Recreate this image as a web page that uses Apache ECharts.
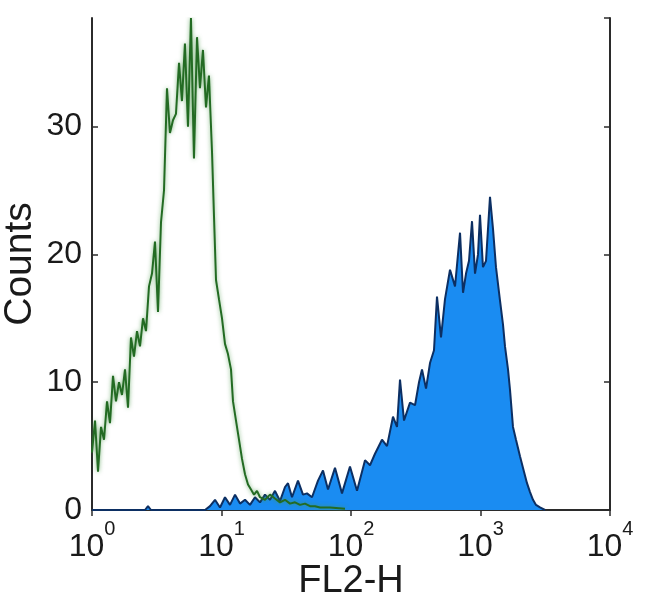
<!DOCTYPE html>
<html>
<head>
<meta charset="utf-8">
<script src="https://cdn.jsdelivr.net/npm/echarts@6/dist/echarts.min.js"></script>
<style>
html,body{margin:0;padding:0;background:#fff;}
#chart{width:650px;height:615px;}
</style>
</head>
<body>
<div id="chart"></div>
<script>
// Isotype control histogram (green outline)
var greenX = [1.00,1.055,1.113,1.174,1.238,1.306,1.377,1.453,1.532,1.616,1.705,1.798,1.897,2.000,2.11,2.226,2.348,2.477,2.612,2.755,2.906,3.065,3.233,3.41,3.597,3.794,4.00,4.22,4.45,4.70,4.95,5.22,5.51,5.81,6.13,6.47,6.82,7.19,7.59,8.00,8.45,8.75,9.07,9.56,10.09,10.64,11.22,11.84,12.27,12.94,13.65,14.40,15.19,16.02,16.90,17.83,18.80,19.83,21.67,23.69,25.89,28.30,30.93,33.81,36.95,40.39,44.15,48.25,52.73,57.64,68.84,89.9];
var greenY = [4.5,7.0,3.0,6.5,5.5,8.5,6.8,10.5,8.5,10.0,9.0,11.0,8.0,13.5,12.0,14.0,12.8,15.0,14.0,17.5,18.5,21.0,15.5,22.5,25.0,33.0,29.5,30.5,31.0,35.0,32.0,36.5,30.0,38.5,27.5,37.0,33.0,36.0,31.5,34.0,28.0,23.0,18.0,16.5,15.0,13.0,12.2,11.0,8.5,7.0,5.5,4.0,2.8,2.0,1.6,1.2,1.5,1.0,0.8,1.2,0.9,0.6,0.8,0.5,0.6,0.4,0.5,0.3,0.3,0.2,0.2,0.1];

// Stained sample histogram (blue filled)
var blueX = [1.00,2.566,2.706,2.855,7.46,8.15,8.91,9.74,10.64,11.63,12.72,13.90,15.19,16.60,18.14,19.83,21.67,23.69,25.89,28.30,30.93,32.62,35.03,38.96,42.59,45.74,49.98,55.62,60.78,66.44,75.22,85.20,98.2,111.3,128.3,140.2,153.2,173.5,189.7,211.0,226.6,239.0,256.7,285.5,312.1,335.1,353.4,379.6,407.4,437.4,461.4,495.5,531.9,581.5,635.6,694.9,732.9,773.0,815.1,859.9,907.0,956.6,991.1,1045,1103,1184,1249,1317,1414,1492,1546,1631,1690,1782,1880,2018,2167,2286,2412,2544,2683,2881,3149];
var blueY = [0,0,0.3,0,0,0.3,0.8,0.2,1.0,0.4,1.2,0.5,0.8,0.4,1.0,0.6,1.2,0.8,1.5,0.7,1.8,2.1,1.0,2.3,1.2,1.3,1.0,2.3,3.1,1.6,3.3,1.3,3.4,1.5,3.9,3.5,4.4,5.5,5.0,7.3,6.5,10.2,7.0,8.4,8.2,10.0,11.0,9.5,11.5,12.5,16.7,13.5,16.5,18.8,17.5,21.7,17.0,18.5,19.5,22.6,18.5,20.0,23.1,19.0,19.5,24.5,22.0,19.0,16.4,14.5,12.8,11.0,9.4,6.5,5.5,4.2,3.0,2.1,1.4,0.8,0.4,0.2,0];

// Axis ticks
var xTickExponents = [0,1,2,3,4];
var yTickLabels = ['0','10','20','30'];
var xTitle = 'FL2-H';
var yTitle = 'Counts';

function pairs(xs, ys){ var out=[]; for (var i=0;i<xs.length;i++) out.push([xs[i], ys[i]]); return out; }

var FONT = "'Liberation Sans', Arial, Helvetica, sans-serif";
var AXC = '#2b2b2b';
var TXT = '#1a1a1a';

var chart = echarts.init(document.getElementById('chart'), null, {renderer:'canvas'});
var frameLine = {show:true, lineStyle:{color:AXC, width:2}};
var tickIn = {show:true, inside:true, length:6, lineStyle:{color:AXC, width:1.5}};

chart.setOption({
  animation:false,
  backgroundColor:'#ffffff',
  grid:{left:92, right:40, top:18, bottom:105, containLabel:false, outerBoundsMode:'none'},
  xAxis:[{
    type:'log', logBase:10,
    min:Math.pow(10, xTickExponents[0]), max:Math.pow(10, xTickExponents[xTickExponents.length-1]),
    position:'bottom',
    name:xTitle, nameLocation:'middle', nameGap:53, nameMoveOverlap:false,
    nameTextStyle:{fontSize:38, fontFamily:FONT, color:TXT},
    axisLine:frameLine, axisTick:tickIn, splitLine:{show:false}, minorTick:{show:false},
    axisLabel:{
      margin:9, showMinLabel:true, showMaxLabel:true,
      formatter:function(v){ var e=Math.round(Math.log10(v)); return xTickExponents.indexOf(e)>=0 ? '{b|10}{s|'+e+'}' : ''; },
      rich:{
        b:{fontSize:32, fontFamily:FONT, color:TXT, lineHeight:32, verticalAlign:'top', padding:[12,0,0,0]},
        s:{fontSize:20, fontFamily:FONT, color:TXT, lineHeight:20, verticalAlign:'top'}
      }
    }
  },{
    type:'log', logBase:10,
    min:Math.pow(10, xTickExponents[0]), max:Math.pow(10, xTickExponents[xTickExponents.length-1]),
    position:'top',
    axisLine:frameLine, axisTick:tickIn, axisLabel:{show:false}, splitLine:{show:false}
  }],
  yAxis:[{
    type:'value', min:0, max:38.5, interval:10,
    position:'left',
    name:yTitle, nameLocation:'middle', nameGap:52, nameRotate:90, nameMoveOverlap:false,
    nameTextStyle:{fontSize:39, fontFamily:FONT, color:TXT},
    axisLine:frameLine, axisTick:tickIn, splitLine:{show:false},
    axisLabel:{
      margin:10, fontSize:32, fontFamily:FONT, color:TXT, showMaxLabel:false,
      formatter:function(v){ var s=String(Math.round(v)); return yTickLabels.indexOf(s)>=0 && Math.abs(v-Math.round(v))<1e-6 ? s : ''; }
    }
  },{
    type:'value', min:0, max:38.5, interval:10,
    position:'right',
    axisLine:frameLine, axisTick:tickIn, axisLabel:{show:false}, splitLine:{show:false}
  }],
  series:[{
    type:'line', name:'stained', xAxisIndex:0, yAxisIndex:0,
    data:pairs(blueX, blueY),
    symbol:'none', sampling:null, z:2,
    lineStyle:{color:'#0c2f63', width:2},
    areaStyle:{color:'#1a8cf2', opacity:1}
  },{
    type:'line', name:'control', xAxisIndex:0, yAxisIndex:0,
    data:pairs(greenX, greenY),
    symbol:'none', z:3,
    lineStyle:{color:'#236b23', width:2, shadowColor:'rgba(70,150,70,0.7)', shadowBlur:4}
  }]
});
</script>
</body>
</html>
